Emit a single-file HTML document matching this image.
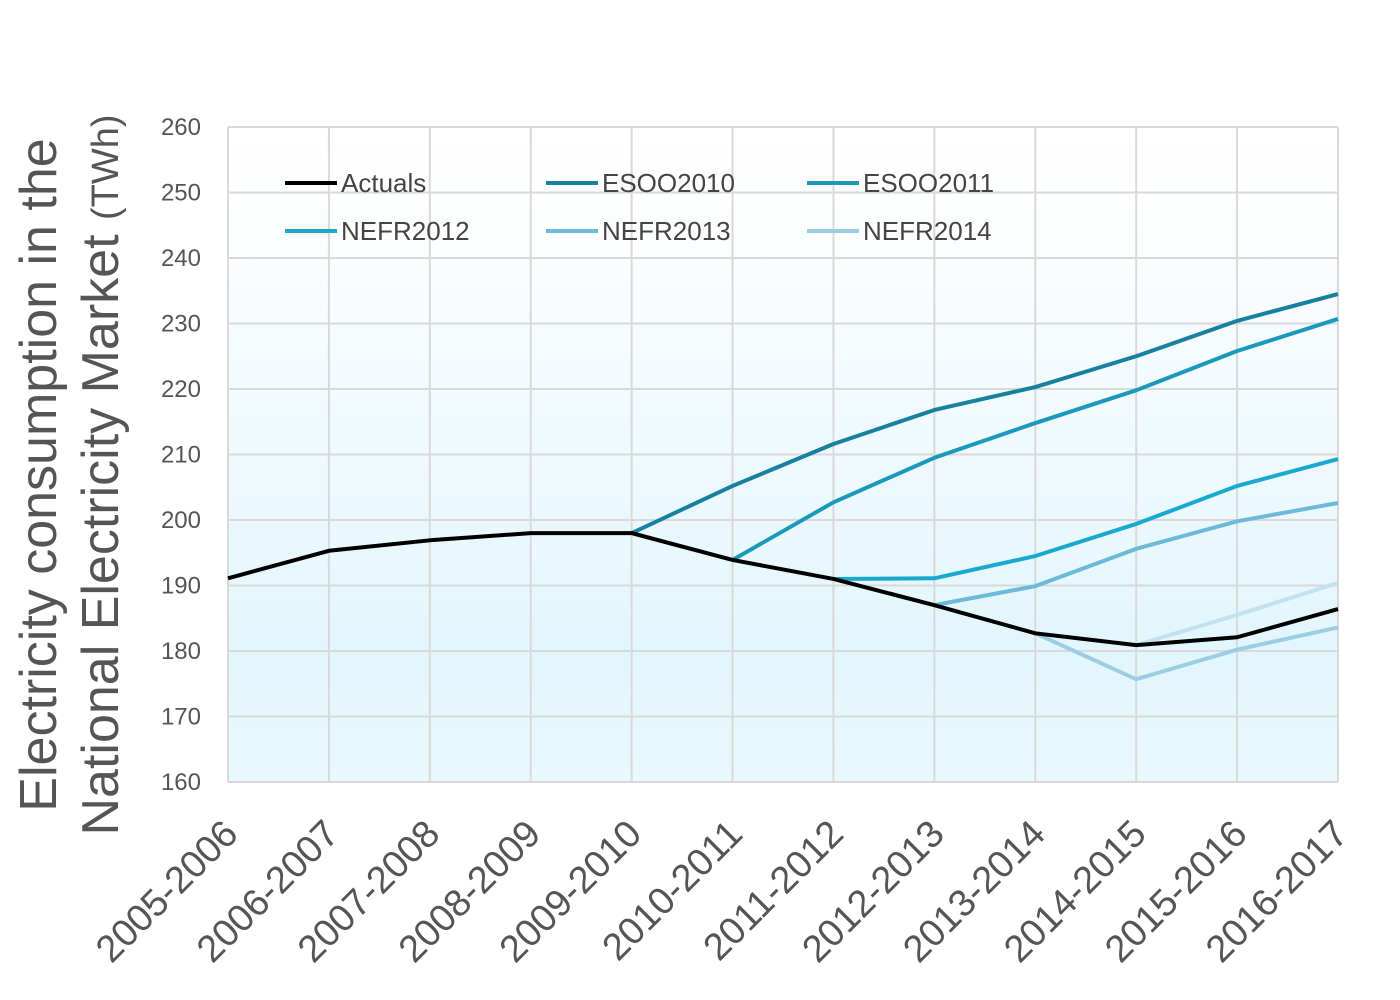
<!DOCTYPE html>
<html><head><meta charset="utf-8"><style>
html,body{margin:0;padding:0;}
body{width:1400px;height:995px;overflow:hidden;font-family:"Liberation Sans",sans-serif;}
</style></head><body>
<svg width="1400" height="995" xmlns="http://www.w3.org/2000/svg">
<defs><linearGradient id="bg" x1="0" y1="0" x2="0" y2="1">
<stop offset="0" stop-color="#ffffff"/><stop offset="0.2" stop-color="#fbfdfe"/><stop offset="0.8" stop-color="#e2f6fd"/><stop offset="1" stop-color="#e8f8fd"/></linearGradient></defs>
<rect width="1400" height="995" fill="#fff"/>
<rect x="228" y="127" width="1110" height="655" fill="url(#bg)"/>
<g id="grid"></g><g id="ticks"></g><g id="xlabels"></g><g id="series"></g><g id="legend"></g>
<text transform="translate(56,475) rotate(-90)" text-anchor="middle" font-size="52" fill="#555">Electricity consumption in the</text>
<text transform="translate(118,475) rotate(-90)" text-anchor="middle" font-size="52" fill="#555">National Electricity Market <tspan font-size="38">(TWh)</tspan></text>
</svg>
<script>
const categories=["2005-2006","2006-2007","2007-2008","2008-2009","2009-2010","2010-2011","2011-2012","2012-2013","2013-2014","2014-2015","2015-2016","2016-2017"];
const yTicks=[160,170,180,190,200,210,220,230,240,250,260];
const actuals=[191.1,195.3,196.9,198.0,198.0,193.9,191.0,187.0,182.7,180.9,182.1,186.4];
const esoo2010=[null,null,null,null,198.0,205.2,211.6,216.8,220.3,225.0,230.4,234.5];
const esoo2011=[null,null,null,null,null,193.9,202.7,209.5,214.8,219.8,225.8,230.7];
const nefr2012=[null,null,null,null,null,null,191.0,191.1,194.5,199.4,205.2,209.3];
const nefr2013=[null,null,null,null,null,null,null,187.0,189.9,195.6,199.8,202.6];
const nefr2014=[null,null,null,null,null,null,null,null,182.7,175.7,180.2,183.6];
const nefr2015=[null,null,null,null,null,null,null,null,null,180.9,185.5,190.4];
const NS="http://www.w3.org/2000/svg";
const X0=228,X1=1338,Y0=782,Y1=127,VMIN=160,VMAX=260;
const xs=i=>X0+(X1-X0)*i/(categories.length-1);
const ys=v=>Y0-(v-VMIN)/(VMAX-VMIN)*(Y0-Y1);
function mk(t,a,p){const e=document.createElementNS(NS,t);for(const k in a)e.setAttribute(k,a[k]);p.appendChild(e);return e;}
const grid=document.getElementById('grid'),ticks=document.getElementById('ticks'),xl=document.getElementById('xlabels'),ser=document.getElementById('series'),leg=document.getElementById('legend');
yTicks.forEach(v=>{
 const l=mk('line',{x1:X0,x2:X1,y1:ys(v),y2:ys(v),stroke:'#d9d9d9','stroke-width':2},grid);
 
 
 const t=mk('text',{x:201,y:ys(v)+8,'text-anchor':'end','font-size':24,fill:'#555'},ticks);
 t.textContent=v;
 
 
});
categories.forEach((c,i)=>{
 const l=mk('line',{x1:xs(i),x2:xs(i),y1:Y1,y2:Y0,stroke:'#d9d9d9','stroke-width':2},grid);
 
 
 const t=mk('text',{transform:`translate(${xs(i)+12},836) rotate(-45)`,'text-anchor':'end','font-size':38,fill:'#555'},xl);
 t.textContent=c;
 
 
});
const list=[
 ['nefr2015',nefr2015,'#c4e2ee'],
 ['nefr2014',nefr2014,'#9ccde2'],
 ['nefr2013',nefr2013,'#6db9d8'],
 ['nefr2012',nefr2012,'#19a9ce'],
 ['esoo2011',esoo2011,'#1b99bb'],
 ['esoo2010',esoo2010,'#17819f'],
 ['actuals',actuals,'#000000']];
list.forEach(([n,arr,col])=>{
 const pts=[];arr.forEach((v,i)=>{if(v!==null)pts.push(xs(i)+','+ys(v));});
 const p=mk('polyline',{points:pts.join(' '),fill:'none',stroke:col,'stroke-width':4,'stroke-linejoin':'round'},ser);
 
 
});
const legItems=[['Actuals','#000000',285,183],['ESOO2010','#17819f',546,183],['ESOO2011','#1b99bb',807,183],['NEFR2012','#19a9ce',285,231],['NEFR2013','#6db9d8',546,231],['NEFR2014','#9ccde2',807,231]];
legItems.forEach(([lab,col,x,y])=>{
 const g=mk('g',{},leg);
 
 
 mk('line',{x1:x,x2:x+52,y1:y,y2:y,stroke:col,'stroke-width':4},g);
 const t=mk('text',{x:x+56,y:y+9,'font-size':26,fill:'#444'},g);
 t.textContent=lab;
});
</script>
</body></html>
